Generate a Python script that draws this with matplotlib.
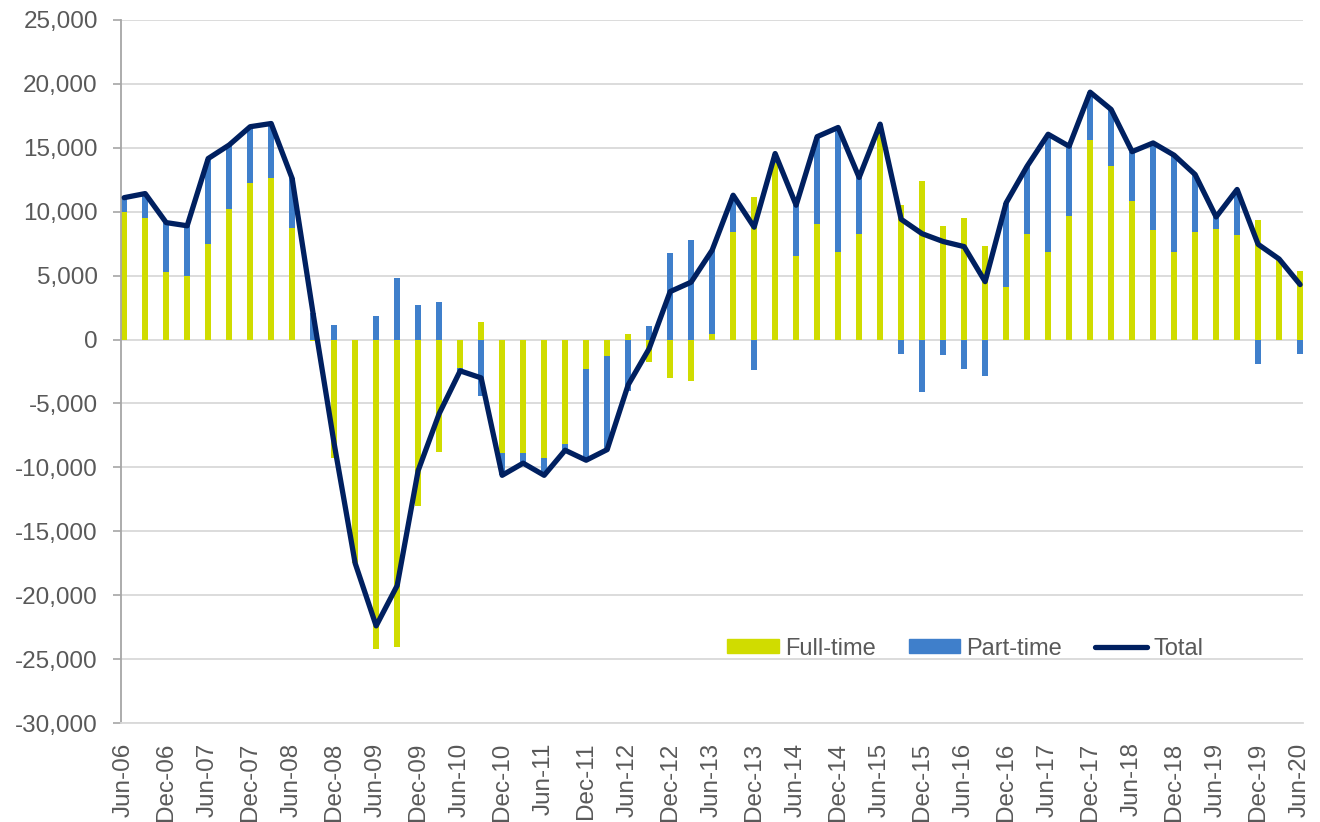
import numpy as np
import matplotlib
matplotlib.use("Agg")
import matplotlib.pyplot as plt
from matplotlib.ticker import FuncFormatter
from matplotlib.patches import Patch
from matplotlib.lines import Line2D

# quarterly, Jun-06 .. Jun-20
tick_labels = ["Jun-06", "Dec-06", "Jun-07", "Dec-07", "Jun-08", "Dec-08",
               "Jun-09", "Dec-09", "Jun-10", "Dec-10", "Jun-11", "Dec-11",
               "Jun-12", "Dec-12", "Jun-13", "Dec-13", "Jun-14", "Dec-14",
               "Jun-15", "Dec-15", "Jun-16", "Dec-16", "Jun-17", "Dec-17",
               "Jun-18", "Dec-18", "Jun-19", "Dec-19", "Jun-20"]

full_time = [10000, 9500, 5300, 5000, 7500, 10200, 12250, 12650, 8700, -100,
             -9300, -17500, -24200, -24050, -13000, -8800, -2200, 1400, -8870, -8870,
             -9260, -8190, -2320, -1300, 470, -1780, -3000, -3260, 410, 8420,
             11190, 13800, 6540, 9050, 6830, 8230, 16100, 10510, 12400, 8870,
             9540, 7350, 4120, 8290, 6810, 9650, 15600, 13560, 10820, 8550,
             6830, 8400, 8630, 8140, 9330, 6200, 5400]

part_time = [1000, 1900, 3800, 3900, 6650, 5000, 4400, 4250, 3900, 2100,
             1170, 0, 1820, 4800, 2710, 2970, -250, -4440, -1750, -800,
             -1360, -470, -7120, -7310, -4020, 1070, 6750, 7750, 6580, 2870,
             -2400, 750, 3970, 6820, 9760, 4450, 750, -1100, -4120, -1200,
             -2270, -2820, 6570, 5270, 9250, 5470, 3750, 4440, 3880, 6830,
             7590, 4510, 960, 3600, -1880, 100, -1100]

total = [11100, 11420, 9150, 8900, 14160, 15220, 16650, 16900, 12600, 2000,
         -8150, -17500, -22400, -19250, -10250, -5800, -2450, -3000, -10620, -9670,
         -10620, -8660, -9440, -8610, -3550, -710, 3750, 4490, 6990, 11290,
         8790, 14550, 10510, 15870, 16590, 12680, 16850, 9410, 8280, 7670,
         7270, 4530, 10690, 13560, 16060, 15120, 19350, 18000, 14700, 15380,
         14420, 12910, 9590, 11740, 7450, 6300, 4300]

YELLOW = "#D0DC00"
BLUE = "#3F7FCB"
NAVY = "#002060"
GRID = "#D9D9D9"
TEXT = "#595959"

plt.rcParams['font.family'] = ['Liberation Sans', 'DejaVu Sans']

x = np.arange(len(full_time))
ft = np.array(full_time, dtype=float)
pt = np.array(part_time, dtype=float)
# excel style stacking: same-sign values stack, opposite signs start at zero
pt_bottom = np.where(np.sign(pt) == np.sign(ft), ft, 0)

fig = plt.figure(figsize=(13.2, 8.22), dpi=100)
ax = fig.add_axes([0.092, 0.1204, 0.895, 0.8553])

w = 0.29
ax.bar(x, ft, width=w, color=YELLOW, zorder=2)
ax.bar(x, pt, width=w, bottom=pt_bottom, color=BLUE, zorder=2)
ax.plot(x, total, color=NAVY, lw=3.8, solid_joinstyle='round',
        solid_capstyle='round', zorder=3)

ax.set_ylim(-30000, 25000)
ax.set_yticks(np.arange(-30000, 25001, 5000))
ax.yaxis.set_major_formatter(FuncFormatter(lambda v, p: f"{int(v):,}"))
ax.set_xlim(-0.13, 56.13)
ax.set_xticks(x[::2])
ax.set_xticklabels(tick_labels, rotation=90, va='top', ha='center')

ax.grid(axis='y', color=GRID, lw=1.3, zorder=0)
ax.set_axisbelow(True)
for s in ['top', 'right']:
    ax.spines[s].set_visible(False)
ax.spines['bottom'].set_color(GRID)
ax.spines['bottom'].set_linewidth(1.3)
ax.spines['left'].set_color("#A6A6A6")
ax.spines['left'].set_linewidth(1.3)
ax.tick_params(axis='y', colors="#A6A6A6", labelcolor=TEXT, labelsize=17.5,
               length=6, width=1.2, pad=11)
ax.tick_params(axis='x', length=0, labelcolor=TEXT, labelsize=17.5, pad=14)

handles = [Patch(color=YELLOW, label="Full-time"),
           Patch(color=BLUE, label="Part-time"),
           Line2D([0], [0], color=NAVY, lw=3.8, solid_capstyle='round', label="Total")]
leg = ax.legend(handles=handles, loc='center', bbox_to_anchor=(0.714, 0.106),
                ncol=3, frameon=False, fontsize=17, handlelength=2.2,
                handleheight=0.55, handletextpad=0.25, columnspacing=1.4)
for t in leg.get_texts():
    t.set_color(TEXT)

fig.savefig("out.png", dpi=100)
